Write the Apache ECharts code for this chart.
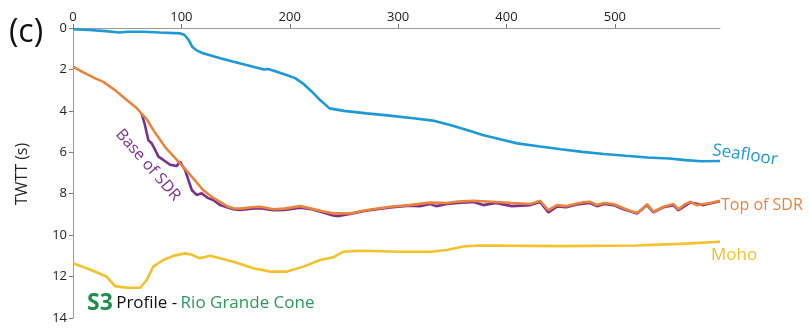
<!DOCTYPE html>
<html><head><meta charset="utf-8">
<script src="https://cdn.jsdelivr.net/npm/echarts@6/dist/echarts.min.js"></script>
<style>html,body{margin:0;padding:0;background:#fff}#c{width:809px;height:329px}</style>
</head><body><div id="c"></div>
<script>
var xTicks = [0, 100, 200, 300, 400, 500];
var yTicks = [0, 2, 4, 6, 8, 10, 12, 14];

var seafloorX = [0, 15, 30, 43, 50, 65, 80, 99, 103, 107, 110, 114, 120, 136, 150, 160, 176, 180, 186, 197, 205, 212, 220, 228, 236.7, 250, 271, 290, 314, 332, 348, 365, 378, 395, 410, 431, 450, 470, 490, 510, 530, 550, 565, 580, 597];
var seafloorY = [0.06, 0.1, 0.15, 0.22, 0.18, 0.18, 0.22, 0.26, 0.34, 0.6, 0.9, 1.08, 1.22, 1.46, 1.65, 1.79, 2.0, 1.98, 2.08, 2.27, 2.42, 2.67, 3.05, 3.48, 3.88, 4.0, 4.12, 4.22, 4.36, 4.47, 4.68, 4.95, 5.17, 5.38, 5.57, 5.72, 5.85, 5.98, 6.08, 6.17, 6.25, 6.3, 6.38, 6.43, 6.42];

var topSdrX = [0, 10, 20, 28, 40, 49.6, 55, 58.8, 63.4, 68, 75, 85, 98.8, 110, 120, 128, 135.7, 142, 148, 154, 165, 172.7, 185, 195, 209.6, 220, 230, 240, 255.8, 270, 292.7, 310, 329.6, 345, 355, 369.6, 390, 405, 422, 431, 438.6, 446.6, 455, 465, 470, 477, 483.5, 490, 498.7, 508, 515, 520.5, 525, 529.7, 535.6, 545, 554, 558.6, 565, 569.7, 575.8, 581.7, 588, 597];
var topSdrY = [1.87, 2.15, 2.42, 2.6, 3.05, 3.48, 3.7, 3.86, 4.15, 4.4, 5.0, 5.75, 6.53, 7.2, 7.82, 8.15, 8.39, 8.6, 8.7, 8.72, 8.65, 8.63, 8.75, 8.72, 8.6, 8.72, 8.85, 8.95, 8.95, 8.8, 8.63, 8.55, 8.43, 8.45, 8.38, 8.34, 8.4, 8.45, 8.5, 8.34, 8.79, 8.55, 8.6, 8.47, 8.42, 8.39, 8.55, 8.45, 8.5, 8.7, 8.85, 8.92, 8.75, 8.5, 8.87, 8.63, 8.5, 8.75, 8.5, 8.39, 8.55, 8.5, 8.45, 8.34];

var baseSdrX = [63.4, 66, 69.5, 72.6, 76, 78.8, 83.4, 89.6, 95.7, 98.8, 103.4, 109.6, 114, 118.8, 124, 129.5, 135.7, 142, 148, 154, 165, 172.7, 185, 195, 209.6, 220, 230, 240, 245, 255.8, 270, 292.7, 310, 320, 329.6, 335, 345, 355, 369.6, 378.6, 390, 405, 422, 431, 438.6, 446.6, 455, 465, 477, 483.5, 490, 498.7, 508, 520.5, 529.7, 535.6, 545, 554, 558.6, 569.7, 581.7, 597];
var baseSdrY = [4.15, 4.6, 5.41, 5.57, 5.9, 6.21, 6.37, 6.6, 6.66, 6.45, 6.86, 7.82, 8.06, 7.98, 8.2, 8.3, 8.55, 8.65, 8.75, 8.78, 8.72, 8.7, 8.8, 8.78, 8.68, 8.75, 8.9, 9.05, 9.08, 8.98, 8.82, 8.66, 8.58, 8.6, 8.5, 8.6, 8.5, 8.45, 8.4, 8.55, 8.45, 8.6, 8.55, 8.4, 8.9, 8.62, 8.65, 8.52, 8.45, 8.6, 8.5, 8.55, 8.75, 8.95, 8.55, 8.9, 8.65, 8.55, 8.8, 8.42, 8.55, 8.36];

var mohoX = [0, 15, 31, 38.8, 49.6, 61.9, 68, 74, 83.4, 92.6, 103.4, 110, 117, 126.5, 135.7, 148, 166.5, 182, 197.4, 212.7, 228, 240, 249.6, 265, 302, 330, 345, 360, 375, 450, 520, 560, 597];
var mohoY = [11.36, 11.65, 12.0, 12.46, 12.54, 12.54, 12.17, 11.52, 11.2, 11.0, 10.88, 10.95, 11.12, 11.0, 11.12, 11.28, 11.6, 11.76, 11.76, 11.52, 11.2, 11.07, 10.8, 10.75, 10.8, 10.8, 10.72, 10.55, 10.5, 10.53, 10.5, 10.42, 10.32];

function pairs(xs, ys) { return xs.map(function (x, i) { return [x, ys[i]]; }); }

var FONT = '"Open Sans", "Noto Sans", sans-serif';
var C_SEA = '#1d9ad6', C_TOP = '#e9843d', C_BASE = '#7d2f8e', C_MOHO = '#f4c02c', C_GREEN = '#1f8f4e';

var chart = echarts.init(document.getElementById('c'));
function line(name, xs, ys, color) {
  return { name: name, type: 'line', data: pairs(xs, ys), showSymbol: false, symbol: 'none',
    lineStyle: { color: color, width: 2.6 }, itemStyle: { color: color }, animation: false, z: 2 };
}
chart.setOption({
  animation: false,
  grid: { left: 73, top: 28, right: 89, bottom: 11 },
  xAxis: {
    type: 'value', position: 'top', min: 0, max: 597,
    axisLine: { show: true, lineStyle: { color: '#999', width: 1 } },
    axisTick: { show: true, length: 4, lineStyle: { color: '#777' }, customValues: xTicks },
    axisLabel: { fontFamily: FONT, fontSize: 13, color: '#222', margin: 4, customValues: xTicks },
    splitLine: { show: false }
  },
  yAxis: {
    type: 'value', inverse: true, min: 0, max: 14, interval: 2,
    axisLine: { show: true, lineStyle: { color: '#999', width: 1 } },
    axisTick: { show: true, length: 4, lineStyle: { color: '#777' } },
    axisLabel: { fontFamily: FONT, fontSize: 13, color: '#222', margin: 6, formatter: function (v) { return yTicks.indexOf(v) >= 0 ? String(v) : ''; } },
    splitLine: { show: false }
  },
  series: [
    line('Seafloor', seafloorX, seafloorY, C_SEA),
    line('Base of SDR', baseSdrX, baseSdrY, C_BASE),
    line('Top of SDR', topSdrX, topSdrY, C_TOP),
    line('Moho', mohoX, mohoY, C_MOHO)
  ],
  graphic: [
    { type: 'text', x: 26, y: 33, style: { text: '(c)', font: '32px ' + FONT, fill: '#111', align: 'center', verticalAlign: 'middle' } },
    { type: 'text', x: 22, y: 174, rotation: Math.PI / 2, style: { text: 'TWTT (s)', font: '16px ' + FONT, fill: '#222', align: 'center', verticalAlign: 'middle' } },
    { type: 'text', x: 148, y: 165, rotation: -0.85, style: { text: 'Base of SDR', font: '16px ' + FONT, fill: C_BASE, align: 'center', verticalAlign: 'middle' } },
    { type: 'text', x: 745, y: 155, rotation: -0.15, style: { text: 'Seafloor', font: '17px ' + FONT, fill: C_SEA, align: 'center', verticalAlign: 'middle' } },
    { type: 'text', x: 721, y: 205, style: { text: 'Top of SDR', font: '16px ' + FONT, fill: C_TOP, align: 'left', verticalAlign: 'middle' } },
    { type: 'text', x: 711, y: 255, style: { text: 'Moho', font: '17px ' + FONT, fill: C_MOHO, align: 'left', verticalAlign: 'middle' } },
    { type: 'text', x: 87, y: 303, style: { rich: {
        s: { font: 'bold 23px ' + FONT, fill: C_GREEN },
        p: { font: '17px ' + FONT, fill: '#111' },
        g: { font: '17px ' + FONT, fill: '#2a9a58' } },
        text: '{s|S3} {p|Profile -} {g|Rio Grande Cone}', verticalAlign: 'middle', align: 'left' } }
  ]
});
</script></body></html>
